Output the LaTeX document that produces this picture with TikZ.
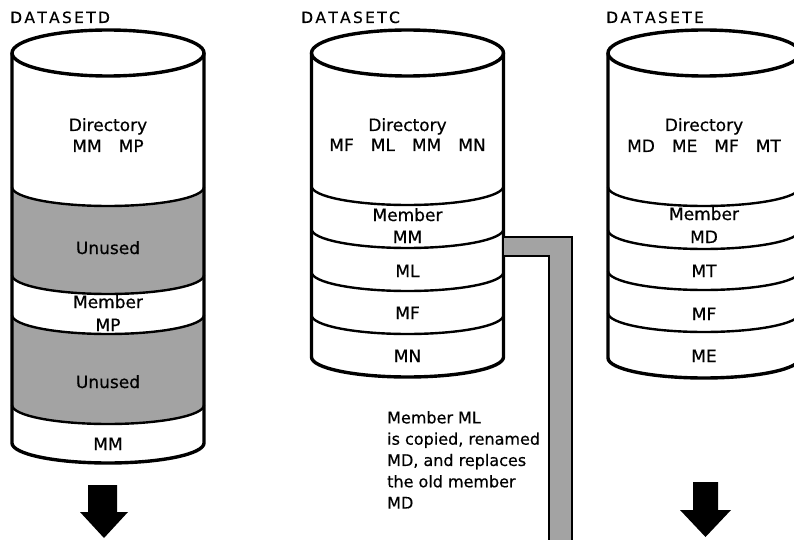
\documentclass[tikz,border=0pt]{standalone}
\usepackage{fontspec}
\setmainfont[FakeBold=0.6]{DejaVu Sans}
\newfontfamily\labelfont[FakeBold=0.5]{DejaVu Sans}
\definecolor{halftone}{gray}{0.64}
\tikzset{
  outline/.style={line width=3.4pt, line join=round},
  divider/.style={line width=2.4pt},
  lbl/.style={anchor=base, inner sep=0pt, font=\labelfont\fontsize{17}{20}\selectfont},
  ttl/.style={anchor=base west, inner sep=0pt, font=\labelfont\fontsize{15.5}{18}\selectfont},
  blockarrow/.style={fill=black},
  pipeline/.style={line width=2.4pt},
  low/.style={start angle=180, end angle=360, x radius=96, y radius=19},
  lowback/.style={start angle=0, end angle=-180, x radius=96, y radius=19},
}
\newcommand\tk{\kern2.3pt}
\begin{document}
\begin{tikzpicture}[x=1pt,y=1pt]
\useasboundingbox (0,0) rectangle (794,-540);
\fill[white] (0,0) rectangle (794,-540);
\clip (0,0) rectangle (794,-540);

% ---------- titles
\node[ttl] (tD) at (10,-23) {D\tk A\tk T\tk A\tk S\tk E\tk T\tk D};
\node[ttl] (tC) at (301,-23) {D\tk A\tk T\tk A\tk S\tk E\tk T\tk C};
\node[ttl] (tE) at (606,-23) {D\tk A\tk T\tk A\tk S\tk E\tk T\tk E};

% ---------- DATASETD
\fill[halftone] (12,-187) arc[low] -- (204,-275) arc[lowback] -- cycle;
\fill[halftone] (12,-315) arc[low] -- (204,-405) arc[lowback] -- cycle;
\draw[divider] (12,-187) arc[low];
\draw[divider] (12,-275) arc[low];
\draw[divider] (12,-315) arc[low];
\draw[divider] (12,-405) arc[low];
\draw[outline] (108,-53) ellipse[x radius=96, y radius=23];
\draw[outline] (12,-53) -- (12,-443) arc[start angle=180,end angle=360,x radius=96,y radius=20] -- (204,-53);
\node[lbl] (dDir) at (108,-131) {Directory};
\node[lbl] (dList) at (108,-152) {MM\quad MP};
\node[lbl] (dU1) at (108,-254) {Unused};
\node[lbl] (dMem) at (108,-308) {Member};
\node[lbl] (dMP) at (108,-331) {MP};
\node[lbl] (dU2) at (108,-388) {Unused};
\node[lbl] (dMM) at (108,-450) {MM};

% ---------- DATASETC
\draw[divider] (311.5,-186) arc[low];
\draw[divider] (311.5,-229) arc[low];
\draw[divider] (311.5,-272) arc[low];
\draw[divider] (311.5,-315) arc[low];
\draw[outline] (407.5,-53) ellipse[x radius=96, y radius=23];
\draw[outline] (311.5,-53) -- (311.5,-357) arc[start angle=180,end angle=360,x radius=96,y radius=20] -- (503.5,-53);
\node[lbl] (cDir) at (407.5,-131) {Directory};
\node[lbl] (cList) at (407.5,-151) {MF\quad ML\quad MM\quad MN};
\node[lbl] (cMem) at (407.5,-221) {Member};
\node[lbl] (cMM) at (407.5,-243) {MM};
\node[lbl] (cML) at (407.5,-277) {ML};
\node[lbl] (cMF) at (407.5,-319) {MF};
\node[lbl] (cMN) at (407.5,-362) {MN};

% ---------- DATASETE
\draw[divider] (608,-187) arc[low];
\draw[divider] (608,-230) arc[low];
\draw[divider] (608,-271) arc[low];
\draw[divider] (608,-313) arc[low];
\draw[outline] (704,-53) ellipse[x radius=96, y radius=23];
\draw[outline] (608,-53) -- (608,-358) arc[start angle=180,end angle=360,x radius=96,y radius=20] -- (800,-53);
\node[lbl] (eDir) at (704,-131) {Directory};
\node[lbl] (eList) at (704,-152) {MD\quad ME\quad MF\quad MT};
\node[lbl] (eMem) at (704,-220) {Member};
\node[lbl] (eMD) at (704,-243) {MD};
\node[lbl] (eMT) at (704,-277) {MT};
\node[lbl] (eMF) at (704,-320) {MF};
\node[lbl] (eME) at (704,-362) {ME};

% ---------- copy pipe from ML
\coordinate (pipeTopIn) at (504,-237);
\coordinate (pipeTopOut) at (572,-237);
\coordinate (pipeEndOut) at (572,-546);
\coordinate (pipeBotIn) at (504,-256);
\coordinate (pipeCorner) at (549,-256);
\coordinate (pipeEndIn) at (549,-546);
\fill[halftone] (pipeTopIn) -- (pipeTopOut) -- (pipeEndOut) -- (pipeEndIn) -- (pipeCorner) -- (pipeBotIn) -- cycle;
\draw[pipeline] (pipeTopIn) -- (pipeTopOut) -- (pipeEndOut);
\draw[pipeline] (pipeBotIn) -- (pipeCorner) -- (pipeEndIn);

\node[anchor=north west, inner sep=0pt, align=left, font=\labelfont\fontsize{16}{21.3}\selectfont] (note) at (387,-411)
  {Member ML\\is copied, renamed\\MD, and replaces\\the old member\\MD};

% ---------- block arrows
\fill[blockarrow] (88,-485) -- (117,-485) -- (117,-512) -- (128,-512) -- (104,-538) -- (80,-512) -- (88,-512) -- cycle;
\fill[blockarrow] (693,-482) -- (718,-482) -- (718,-510) -- (731,-510) -- (705.5,-537) -- (680,-510) -- (693,-510) -- cycle;
\end{tikzpicture}
\end{document}
